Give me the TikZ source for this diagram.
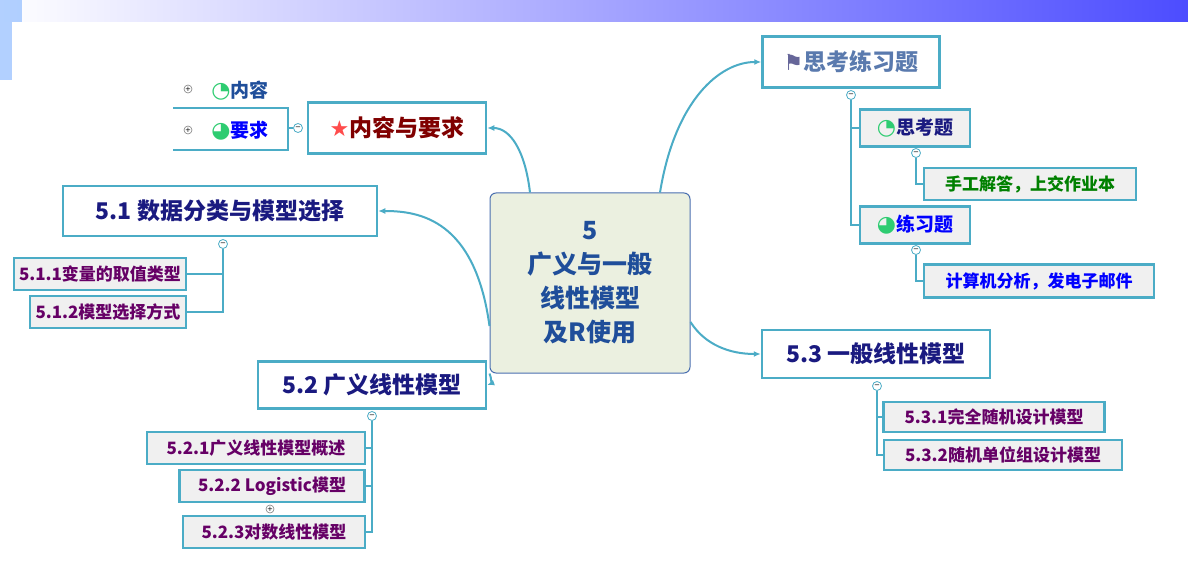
\documentclass[tikz,border=0pt]{standalone}
\usepackage{fontspec}
\setmainfont{Noto Sans CJK SC}
\newfontfamily\symfont{DejaVu Sans}
\usepackage{tikz}
\usetikzlibrary{positioning,arrows.meta,shapes.geometric}
\definecolor{teal}{HTML}{4BACC6}
\definecolor{navy}{HTML}{1A1A80}
\definecolor{plum}{HTML}{660066}
\definecolor{darkred}{HTML}{800000}
\definecolor{grayblue}{HTML}{5A7AAE}
\definecolor{centerfill}{HTML}{EBF0E0}
\definecolor{centerdraw}{HTML}{4A6FB0}
\definecolor{centertext}{HTML}{1F4E9A}
\definecolor{leafgray}{HTML}{F0F0F0}
\definecolor{iconfill}{HTML}{2ECC71}
\newcommand{\quarter}{\textcolor{iconfill}{\symfont\fontsize{22}{22}\selectfont ◔}}
\newcommand{\halfpie}{\textcolor{iconfill}{\symfont\fontsize{22}{22}\selectfont ◕}}
\begin{document}
\begin{tikzpicture}[x=1pt, y=-1pt, font=\bfseries]
% Define styles
\tikzstyle{topic} = [rectangle, draw=teal, line width=2.5pt, fill=white, text=navy, font=\fontsize{23}{26}\bfseries, inner sep=0pt]
\tikzstyle{leaf} = [rectangle, draw=teal, line width=2.5pt, fill=leafgray, text=plum, font=\fontsize{17}{20}\bfseries, inner sep=0pt]
\tikzstyle{link} = [-{Latex[length=7pt,width=6pt]}, line width=2pt, draw=teal]
\tikzstyle{branch} = [line width=2pt, draw=teal]
\tikzstyle{fold} = [circle, draw=teal, fill=white, line width=0.8pt, minimum size=9pt, inner sep=0pt, font=\symfont\fontsize{7}{7}\selectfont]
\tikzstyle{fold+} = [circle, draw=gray, fill=white, line width=0.6pt, minimum size=8pt, inner sep=0pt, font=\symfont\fontsize{7}{7}\selectfont]

\useasboundingbox (0,0) rectangle (1188,572);
\fill[white] (0,0) rectangle (1188,572);
% Background banner
\shade[left color=white, right color=blue!70] (0,0) rectangle (1188,22);
\fill[blue!60!cyan!60, opacity=0.5] (0,0) rectangle (22,80);
\fill[white] (12,22) rectangle (1150,572);

% Central topic
\node[rectangle, rounded corners=6pt, draw=centerdraw, line width=1pt, fill=centerfill, text=centertext, minimum width=200pt, minimum height=180pt, align=center, font=\fontsize{25}{34}\bfseries] (Center) at (590,283) {5\\广义与一般\\线性模型\\及R使用};

% Topics
\node[topic, text=darkred, minimum width=178pt, minimum height=51pt] (Content) at (397,128) {\textcolor{red!70}{\symfont\fontsize{22}{22}\selectfont ★}内容与要求};
\node[topic, minimum width=314pt, minimum height=50pt] (DataClass) at (220,211) {5.1 数据分类与模型选择};
\node[topic, minimum width=228pt, minimum height=47pt] (GLM) at (372,385) {5.2 广义线性模型};
\node[topic, minimum width=228pt, minimum height=48pt] (LM) at (876,354) {5.3 一般线性模型};
\node[topic, text=grayblue, minimum width=177pt, minimum height=51pt] (Exercise) at (851,62) {\textcolor{gray!80!blue}{\symfont\fontsize{22}{22}\selectfont ⚑}思考练习题};

% Content children
\node[text=centertext, font=\fontsize{19}{22}\bfseries] (Nei) at (240,91) {\quarter 内容};
\node[text=blue, font=\fontsize{19}{22}\bfseries] (Yao) at (240,131) {\halfpie 要求};
\node[fold+] (NeiPlus) at (188,89) {+};
\node[fold+] (YaoPlus) at (188,130) {+};

% 5.1 leaves
\node[leaf, minimum width=172pt, minimum height=32pt] (Var) at (100,274) {5.1.1变量的取值类型};
\node[leaf, minimum width=156pt, minimum height=32pt] (Select) at (108,312) {5.1.2模型选择方式};

% 5.2 leaves
\node[leaf, minimum width=218pt, minimum height=32pt] (GLMIntro) at (256,448) {5.2.1广义线性模型概述};
\node[leaf, minimum width=185pt, minimum height=32pt] (Logistic) at (272,486) {5.2.2 Logistic模型};
\node[leaf, minimum width=182pt, minimum height=32pt] (LogLinear) at (274,532) {5.2.3对数线性模型};
\node[fold+] (LogPlus) at (270,509) {+};

% 5.3 leaves
\node[leaf, minimum width=221pt, minimum height=30pt] (CRD) at (994,417) {5.3.1完全随机设计模型};
\node[leaf, minimum width=238pt, minimum height=30pt] (RBD) at (1003,455) {5.3.2随机单位组设计模型};

% Exercise children
\node[leaf, text=navy, font=\fontsize{19}{22}\bfseries, minimum width=110pt, minimum height=37pt] (Think) at (915,128) {\quarter 思考题};
\node[leaf, text=green!50!black, minimum width=212pt, minimum height=32pt] (Hand) at (1030,184) {手工解答，上交作业本};
\node[leaf, text=blue, font=\fontsize{19}{22}\bfseries, minimum width=110pt, minimum height=37pt] (Practice) at (915,225) {\halfpie 练习题};
\node[leaf, text=blue, minimum width=230pt, minimum height=33pt] (Computer) at (1039,281) {计算机分析，发电子邮件};

% Connectors from the centre
\draw[link] ([xshift=-60pt]Center.north) .. controls (525,150) and (510,128) .. (Content.east);
\draw[link] ([yshift=-43pt]Center.west) .. controls (475,220) and (420,211) .. (DataClass.east);
\draw[link] (Center.south west) .. controls (492,378) and (490,384) .. (GLM.east);
\draw[link] ([xshift=70pt]Center.north) .. controls (675,100) and (720,62) .. (Exercise.west);
\draw[link] ([yshift=-39pt]Center.east) .. controls (705,345) and (730,354) .. (LM.west);

% Content bracket
\node[fold] (ContentFold) at (298,128) {−};
\draw[branch] (ContentFold) -- (288,128);
\draw[branch] (173,108) -- (288,108) -- (288,150) -- (173,150);

% 5.1 tree
\node[fold] (DataFold) at (223,244) {−};
\draw[branch] (DataFold) |- (Var.east);
\draw[branch] (DataFold) |- (Select.east);

% 5.2 tree
\node[fold] (GLMFold) at (372,416) {−};
\draw[branch] (GLMFold) |- (GLMIntro.east);
\draw[branch] (GLMFold) |- (Logistic.east);
\draw[branch] (GLMFold) |- (LogLinear.east);

% 5.3 tree
\node[fold] (LMFold) at (877,386) {−};
\draw[branch] (LMFold) |- (CRD.west);
\draw[branch] (LMFold) |- (RBD.west);

% Exercise tree
\node[fold] (ExFold) at (851,95) {−};
\draw[branch] (ExFold) |- (Think.west);
\draw[branch] (ExFold) |- (Practice.west);
\node[fold] (ThinkFold) at (916,153) {−};
\draw[branch] (ThinkFold) |- (Hand.west);
\node[fold] (PracticeFold) at (916,250) {−};
\draw[branch] (PracticeFold) |- (Computer.west);
\end{tikzpicture}
\end{document}
